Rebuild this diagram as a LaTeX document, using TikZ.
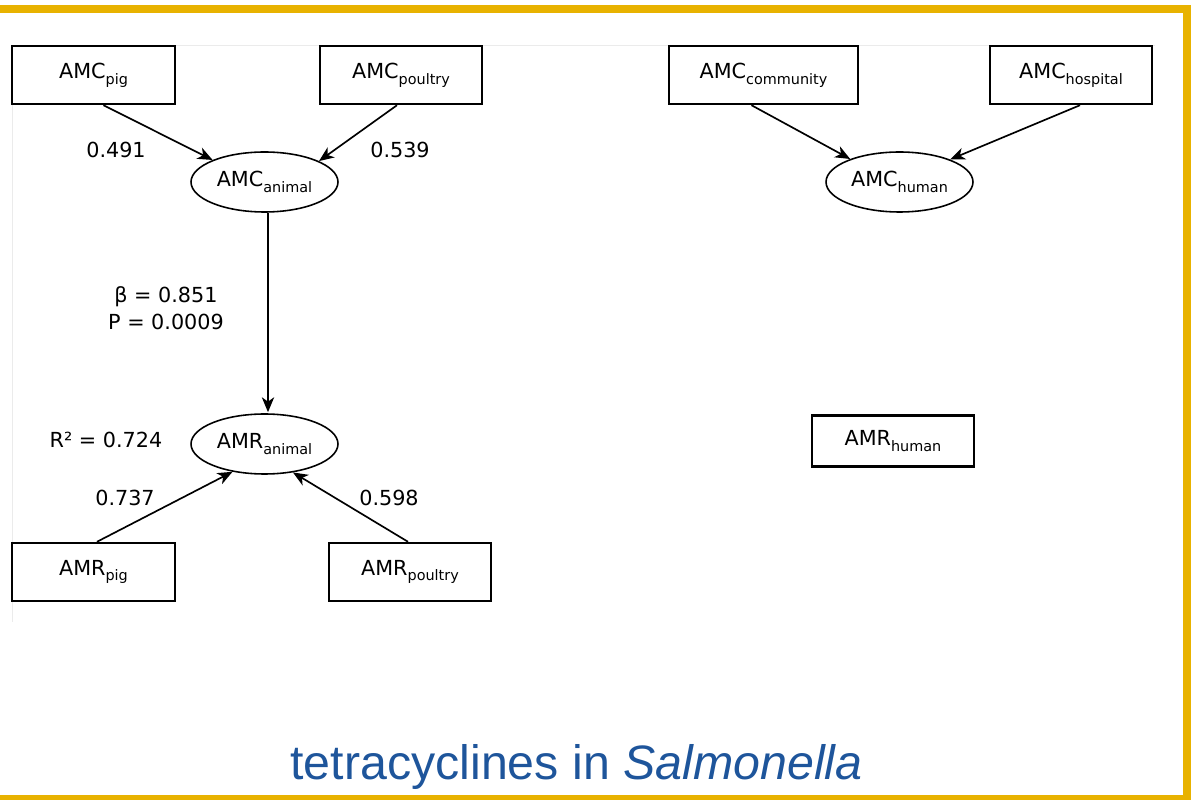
\documentclass[tikz,border=0pt]{standalone}
\usepackage{fontspec}
\setmainfont{DejaVu Sans}
\newfontfamily\titlefont{Liberation Sans}
\usetikzlibrary{arrows.meta,calc,shapes.geometric}

\definecolor{framegold}{RGB}{232,178,0}
\definecolor{titleblue}{RGB}{30,85,155}

% lowered subscript used in the variable names
\newcommand{\lo}[1]{\raisebox{-0.5ex}{\fontsize{8.2}{8}\selectfont #1}}

\begin{document}
\begin{tikzpicture}[x=0.02cm,y=-0.02cm,
  font=\fontsize{11.8}{15.4}\selectfont,
  obsbox/.style={draw,line width=1.4pt,inner sep=0pt,minimum height=1.16cm},
  latent/.style={draw,ellipse,line width=0.9pt,inner sep=0pt,minimum width=2.94cm,minimum height=1.2cm},
  effect/.style={line width=0.95pt,-{Stealth[length=8.5pt,width=7pt,inset=2.5pt]}}]

  % Fix the page size
  \useasboundingbox (0,0) rectangle (1191,800);

  % Gold frame, open on the left
  \draw[framegold,line width=4.5pt,line join=miter] (0,9) -- (1187,9) -- (1187,799) -- (0,799);

  % Faint edge of the embedded figure
  \draw[black!8,line width=0.5pt] (12,622) -- (12,45) -- (1155,45);

  % Consumption boxes on top
  \node[obsbox,minimum width=3.26cm] (cpig) at (93.5,75) {AMC\lo{pig}};
  \node[obsbox,minimum width=3.24cm] (cpoultry) at (401,75) {AMC\lo{poultry}};
  \node[obsbox,minimum width=3.78cm] (ccommunity) at (763.5,75) {AMC\lo{community}};
  \node[obsbox,minimum width=3.24cm] (chospital) at (1071,75) {AMC\lo{hospital}};

  % Latent variables
  \node[latent] (canimal) at (264.5,182) {AMC\lo{animal}};
  \node[latent] (chuman) at (899.5,182) {AMC\lo{human}};
  \node[latent] (ranimal) at (264.5,444) {AMR\lo{animal}};

  % Resistance boxes
  \node[obsbox,minimum width=3.24cm,minimum height=1.02cm] (rhuman) at (893,441) {AMR\lo{human}};
  \node[obsbox,minimum width=3.26cm] (rpig) at (93.5,572) {AMR\lo{pig}};
  \node[obsbox,minimum width=3.24cm] (rpoultry) at (410,572) {AMR\lo{poultry}};

  % Loadings on the animal side
  \draw[effect] ($(cpig.south)+(10,0)$) -- (canimal.157);
  \draw[effect] ($(cpoultry.south)+(-4,0)$) -- (canimal.21);
  \draw[effect] ($(rpig.north)+(3.5,0)$) -- (ranimal.221);
  \draw[effect] ($(rpoultry.north)+(-2,0)$) -- (ranimal.315);

  % Loadings on the human side
  \draw[effect] ($(ccommunity.south)+(-12,0)$) -- (chuman.155);
  \draw[effect] ($(chospital.south)+(9,0)$) -- (chuman.24);

  % Path from consumption to resistance
  \draw[effect] ($(canimal.south)+(3.5,0)$) -- ($(ranimal.north)+(3.5,-1)$);

  % Coefficients
  \node (l491) at (116,150) {0.491};
  \node (l539) at (400,150) {0.539};
  \node[align=center] (lbeta) at (166,308) {β = 0.851\\P = 0.0009};
  \node (lrsq) at (106,440) {R² = 0.724};
  \node (l737) at (125,498) {0.737};
  \node (l598) at (389,498) {0.598};

  % Title
  \node[anchor=base,text=titleblue,font=\titlefont\fontsize{27.5}{30}\selectfont] (title) at (576.5,779) {tetracyclines in \textit{Salmonella}};

\end{tikzpicture}
\end{document}
